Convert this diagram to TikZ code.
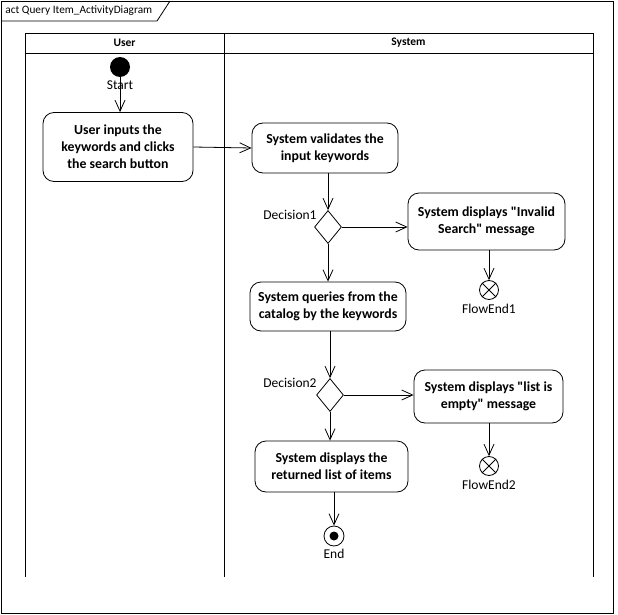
\documentclass[tikz,border=0pt]{standalone}
\usepackage{fontspec}
\setmainfont{Carlito}
\usetikzlibrary{arrows.meta,shapes.geometric}
\begin{document}
\begin{tikzpicture}[x=1pt,y=-1pt,line width=0.8pt,
  action/.style={draw, rounded corners=11pt, align=center, inner sep=0pt,
    font=\bfseries\fontsize{13.8}{17}\selectfont},
  lbl/.style={font=\fontsize{13.5}{14}\selectfont, inner sep=0pt},
  flow/.style={-{Straight Barb[length=11pt,width=10pt,line width=0.8pt]}},
  decision/.style={draw, diamond, inner sep=0pt, minimum width=27pt, minimum height=33pt},
  flowend/.style={draw, circle, inner sep=0pt, minimum size=19pt},
  hdr/.style={font=\bfseries\fontsize{11.5}{12}\selectfont, inner sep=0pt}]
\useasboundingbox (0,0) rectangle (618,615);

% diagram frame and title tab
\draw (1,1) rectangle (613,613);
\draw (1,21) -- (157,21) -- (170,1);
\node[font=\fontsize{11.3}{13}\selectfont, inner sep=0pt, anchor=west] (title) at (5,11) {act Query Item\_ActivityDiagram};

% swimlanes
\draw (25,577) -- (25,33) -- (593,33) -- (593,577);
\draw (25,53) -- (593,53);
\draw (224,33) -- (224,577);
\node[hdr] (laneuser) at (124.5,43) {User};
\node[hdr] (lanesys) at (408.5,43) {System};

% start
\node[circle, fill, inner sep=0pt, minimum size=20pt] (start) at (120,67) {};
\node[lbl] (startlbl) at (120,85) {Start};

% actions
\node[action, minimum width=150pt, minimum height=69pt] (a1) at (118,147)
  {User inputs the\\keywords and clicks\\the search button};
\node[action, minimum width=146pt, minimum height=50pt] (a2) at (325,148)
  {System validates the\\input keywords};
\node[action, minimum width=157pt, minimum height=57pt] (a3) at (486.5,221.5)
  {System displays \textquotedbl Invalid\\Search\textquotedbl{} message};
\node[action, minimum width=156pt, minimum height=49pt] (a4) at (328,306.5)
  {System queries from the\\catalog by the keywords};
\node[action, minimum width=149pt, minimum height=53pt] (a5) at (488.5,396.5)
  {System displays \textquotedbl list is\\empty\textquotedbl{} message};
\node[action, minimum width=153pt, minimum height=51pt] (a6) at (331.5,466.5)
  {System displays the\\returned list of items};

% decisions
\node[decision] (d1) at (328,227) {};
\node[lbl, anchor=east] (d1lbl) at (317,215) {Decision1};
\node[decision] (d2) at (330,395) {};
\node[lbl, anchor=east] (d2lbl) at (317,383) {Decision2};

% flow finals
\node[flowend] (fe1) at (489,290) {};
\draw (fe1.north east) -- (fe1.south west) (fe1.north west) -- (fe1.south east);
\node[lbl] (fe1lbl) at (489,309) {FlowEnd1};
\node[flowend] (fe2) at (489,466) {};
\draw (fe2.north east) -- (fe2.south west) (fe2.north west) -- (fe2.south east);
\node[lbl] (fe2lbl) at (489,485) {FlowEnd2};

% activity final
\node[draw, circle, inner sep=0pt, minimum size=20pt] (end) at (334,536) {};
\fill (end.center) circle (4.5pt);
\node[lbl] (endlbl) at (334,554) {End};

% control flows
\draw[flow] (start) -- (a1.north -| start);
\draw[flow] (a1.east) -- (a2.west);
\draw[flow] (a2.south -| d1) -- (d1.north);
\draw[flow] (d1.east) -- (d1.east -| a3.west);
\draw[flow] (a3.south -| fe1) -- (fe1.north);
\draw[flow] (d1.south) -- (d1.south |- a4.north);
\draw[flow] (a4.south -| d2) -- (d2.north);
\draw[flow] (d2.east) -- (d2.east -| a5.west);
\draw[flow] (a5.south -| fe2) -- (fe2.north);
\draw[flow] (d2.south) -- (d2.south |- a6.north);
\draw[flow] (a6.south -| end) -- (end.north);
\end{tikzpicture}
\end{document}
